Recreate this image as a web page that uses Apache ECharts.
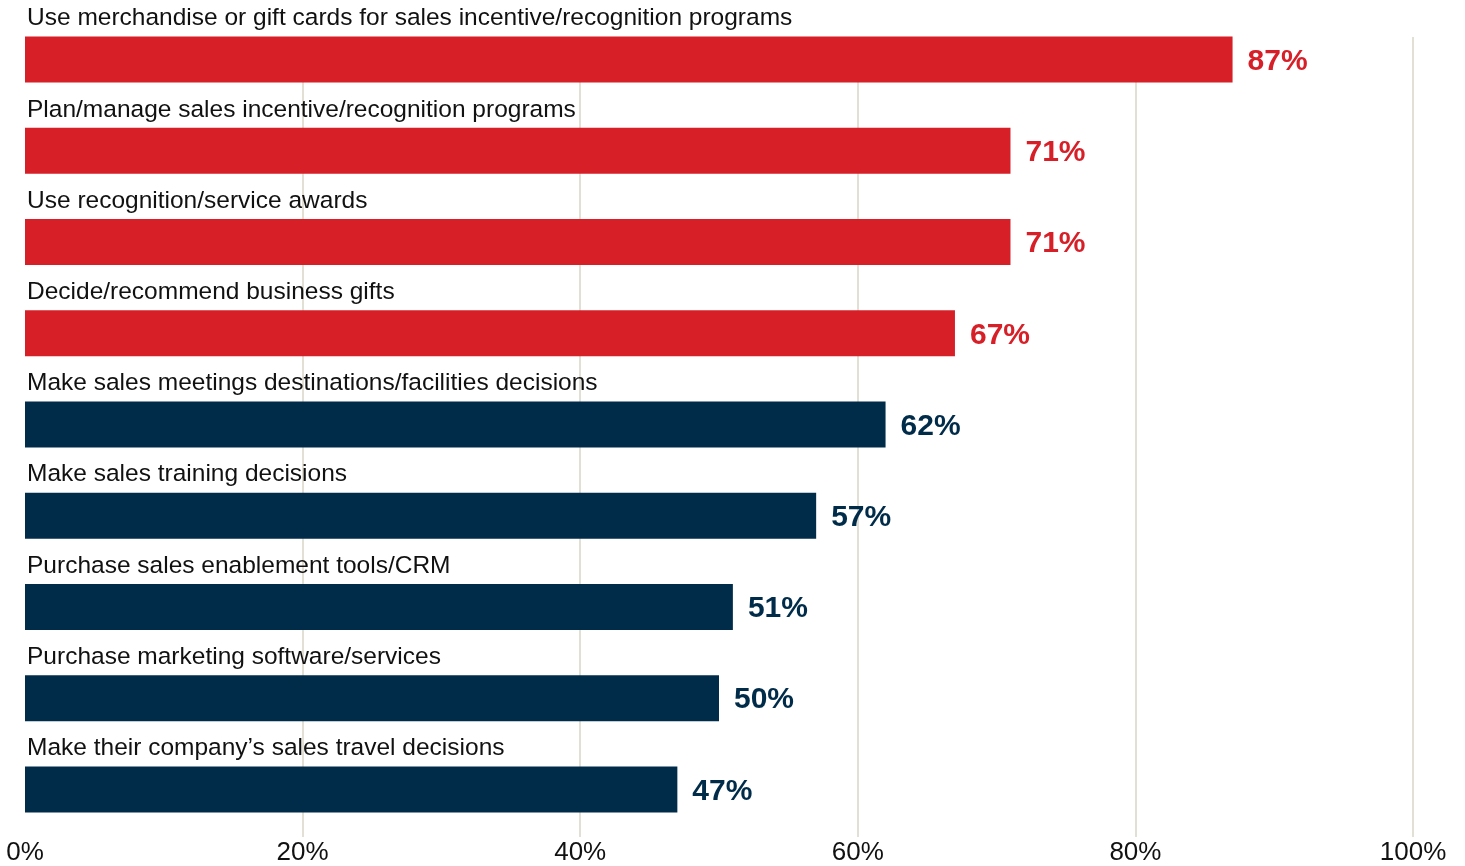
<!DOCTYPE html>
<html>
<head>
<meta charset="utf-8">
<script src="https://cdn.jsdelivr.net/npm/echarts@6/dist/echarts.min.js"></script>
<style>
  html, body { margin: 0; padding: 0; background: #ffffff; }
  #chart { width: 1465px; height: 866px; }
</style>
</head>
<body>
<div id="chart"></div>
<script>
// Share of respondents by responsibility
const categories = [
  "Use merchandise or gift cards for sales incentive/recognition programs",
  "Plan/manage sales incentive/recognition programs",
  "Use recognition/service awards",
  "Decide/recommend business gifts",
  "Make sales meetings destinations/facilities decisions",
  "Make sales training decisions",
  "Purchase sales enablement tools/CRM",
  "Purchase marketing software/services",
  "Make their company\u2019s sales travel decisions"
];
const values = [87, 71, 71, 67, 62, 57, 51, 50, 47];
// First four responsibilities are highlighted in red
const highlighted = [true, true, true, true, false, false, false, false, false];
const xTicks = [0, 20, 40, 60, 80, 100];

const RED = "#D71F28";
const NAVY = "#002C4A";
const GRID = "#D9D4C6";
const FONT = "'Liberation Sans', Arial, Helvetica, sans-serif";

const chart = echarts.init(document.getElementById("chart"));

const barData = values.map((v, i) => ({
  value: v,
  itemStyle: { color: highlighted[i] ? RED : NAVY },
  label: { color: highlighted[i] ? RED : NAVY }
}));

chart.setOption({
  animation: false,
  grid: [
    // bars and labels
    { left: 25, right: 52, top: 14, bottom: 28, containLabel: false },
    // vertical reference lines
    { left: 25, right: 52, top: 37, bottom: 29, containLabel: false }
  ],
  xAxis: [
    {
      gridIndex: 0, type: "value", min: 0, max: 100, interval: 20,
      axisLine: { show: false }, axisTick: { show: false },
      splitLine: { show: false },
      axisLabel: {
        fontFamily: FONT, fontSize: 26, color: "#111111", margin: 5,
        formatter: v => (xTicks.includes(v) ? v + "%" : "")
      }
    },
    {
      gridIndex: 1, type: "value", min: 0, max: 100, interval: 20,
      axisLine: { show: false }, axisTick: { show: false },
      axisLabel: { show: false },
      splitLine: {
        show: true,
        // no line at 0%
        lineStyle: { color: ["rgba(0,0,0,0)", GRID, GRID, GRID, GRID, GRID], width: 1.5 }
      }
    }
  ],
  yAxis: [
    {
      gridIndex: 0, type: "category", data: categories, inverse: true,
      axisLine: { show: false }, axisTick: { show: false },
      axisLabel: { show: false }
    },
    {
      gridIndex: 1, type: "category", data: categories, inverse: true,
      axisLine: { show: false }, axisTick: { show: false },
      axisLabel: { show: false }
    }
  ],
  series: [
    {
      type: "bar",
      xAxisIndex: 0, yAxisIndex: 0,
      barWidth: 46,
      data: barData,
      z: 3,
      label: {
        show: true,
        position: "right",
        distance: 15,
        offset: [0, 2],
        fontFamily: FONT,
        fontSize: 30,
        fontWeight: "bold",
        formatter: p => p.value + "%"
      }
    },
    {
      // carries the category caption above each bar
      type: "bar",
      xAxisIndex: 0, yAxisIndex: 0,
      barWidth: 46,
      barGap: "-100%",
      data: values.map(() => 100),
      itemStyle: { color: "rgba(0,0,0,0)" },
      silent: true,
      z: 4,
      label: {
        show: true,
        position: [2, -18],
        verticalAlign: "middle",
        align: "left",
        fontFamily: FONT,
        fontSize: 24.5,
        color: "#111111",
        formatter: p => categories[p.dataIndex]
      }
    }
  ]
});
</script>
</body>
</html>
